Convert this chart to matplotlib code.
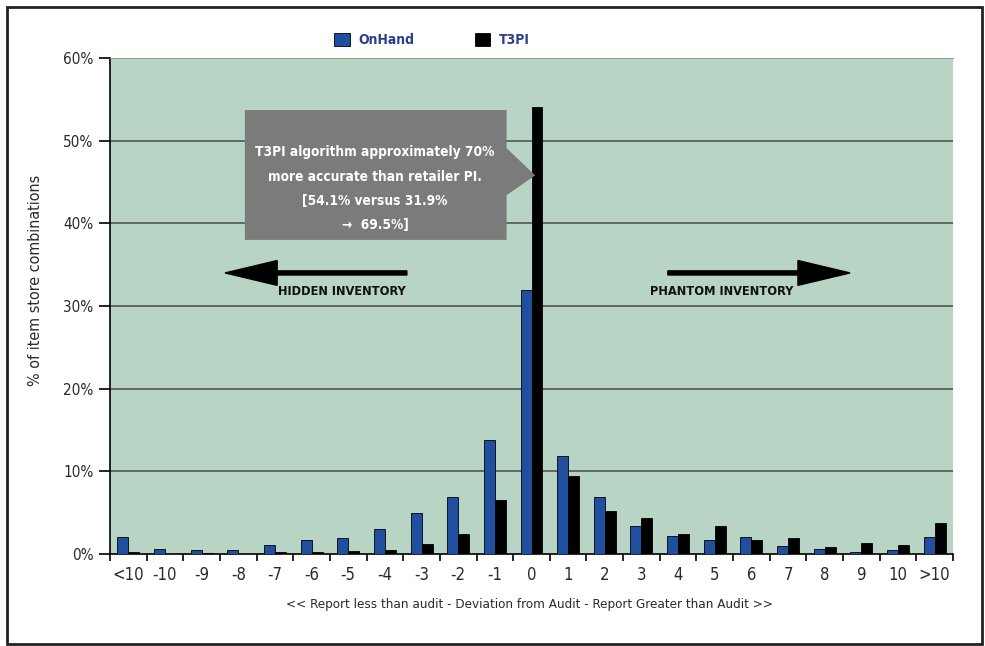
import matplotlib.pyplot as plt
from matplotlib.patches import Polygon, Rectangle
import numpy as np

plt.rcParams['font.family'] = ['DejaVu Sans']
plt.rcParams['font.stretch'] = 'condensed'

categories = ['<10', '-10', '-9', '-8', '-7', '-6', '-5', '-4', '-3', '-2', '-1', '0',
              '1', '2', '3', '4', '5', '6', '7', '8', '9', '10', '>10']
onhand = [2.0, 0.65, 0.5, 0.5, 1.1, 1.7, 1.95, 3.0, 5.0, 6.9, 13.8, 31.9,
          11.8, 6.85, 3.4, 2.2, 1.7, 2.0, 0.95, 0.65, 0.3, 0.5, 2.0]
t3pi = [0.2, 0.0, 0.15, 0.0, 0.2, 0.2, 0.35, 0.45, 1.2, 2.4, 6.5, 54.1,
        9.45, 5.2, 4.3, 2.4, 3.4, 1.65, 1.95, 0.8, 1.35, 1.1, 3.7]
yticks = [0, 10, 20, 30, 40, 50, 60]

fig = plt.figure(figsize=(9.85, 6.46), dpi=100)
ax = fig.add_axes([110/985, 1-554/646, 843/985, 496/646])
ax.set_facecolor('#b8d4c4')

x = np.arange(len(categories))
w = 0.3
ax.bar(x - w/2, onhand, w, color='#1f4f9e', edgecolor='black', linewidth=0.6, label='OnHand', zorder=3)
ax.bar(x + w/2, t3pi, w, color='black', edgecolor='black', linewidth=0.6, label='T3PI', zorder=3)

ax.set_xlim(-0.5, len(categories) - 0.5)
ax.set_ylim(0, 60)
ax.set_yticks(yticks)
ax.set_yticklabels([f'{v}%' for v in yticks], fontsize=11, color='#2a2a2a')
for v in yticks[1:-1]:
    ax.axhline(v, color='#4a4a4a', lw=1.1, zorder=1)

ax.set_xticks(x)
ax.set_xticklabels(categories, fontsize=12, color='#2a2a2a')
ax.set_xticks(np.arange(-0.5, len(categories)), minor=True)
ax.tick_params(axis='x', which='major', length=0, pad=9)
ax.tick_params(axis='x', which='minor', length=5, width=1.2, direction='out')
ax.tick_params(axis='y', length=8, width=1.2, direction='out', pad=4)

ax.spines['right'].set_visible(False)
ax.spines['top'].set_color('#999999')
ax.spines['left'].set_linewidth(1.2)
ax.spines['bottom'].set_linewidth(1.2)

ax.set_ylabel('% of item store combinations', fontsize=11.5, color='#2a2a2a')
ax.yaxis.set_label_coords(-0.08, 0.552)
ax.set_xlabel('<< Report less than audit - Deviation from Audit - Report Greater than Audit >>',
              fontsize=9.6, color='#2a2a2a')
ax.xaxis.set_label_coords(0.498, -0.089)

# callout
callout = Polygon([(3.18, 53.7), (10.32, 53.7), (10.32, 49.1), (11.1, 45.8),
                   (10.32, 43.4), (10.32, 38.0), (3.18, 38.0)],
                  closed=True, facecolor='#7b7b7b', edgecolor='none', zorder=4)
ax.add_patch(callout)
lines = ['T3PI algorithm approximately 70%', 'more accurate than retailer PI.',
         '[54.1% versus 31.9%', '\u2192  69.5%]']
for i, t in enumerate(lines):
    ax.text(6.73, 48.6 - i*2.95, t, ha='center', va='center', color='white',
            fontsize=9.8, fontweight='bold', zorder=5)

# direction arrows
ax.arrow(7.6, 34.0, -4.96, 0, width=0.5, head_width=3.0, head_length=1.42,
         length_includes_head=True, color='black', zorder=4)
ax.arrow(14.72, 34.0, 4.97, 0, width=0.5, head_width=3.0, head_length=1.42,
         length_includes_head=True, color='black', zorder=4)
ax.text(7.58, 31.7, 'HIDDEN INVENTORY', ha='right', va='center', fontsize=9.2,
        fontweight='bold', color='#111111', zorder=4)
ax.text(18.14, 31.7, 'PHANTOM INVENTORY', ha='right', va='center', fontsize=9.2,
        fontweight='bold', color='#111111', zorder=4)

leg = fig.legend(loc='center', bbox_to_anchor=(432/985, 1-40/646), ncol=2, frameon=False,
                 handlelength=1.1, handleheight=1.1, handletextpad=0.6, columnspacing=4.4,
                 prop={'size': 10, 'weight': 'bold', 'stretch': 'condensed'})
for t in leg.get_texts():
    t.set_color('#2b3f8a')

fig.patches.append(Rectangle((7/985, 2/646), 975/985, 637/646, transform=fig.transFigure,
                             fill=False, edgecolor='#222222', lw=2))

fig.savefig('out.png', dpi=100)
